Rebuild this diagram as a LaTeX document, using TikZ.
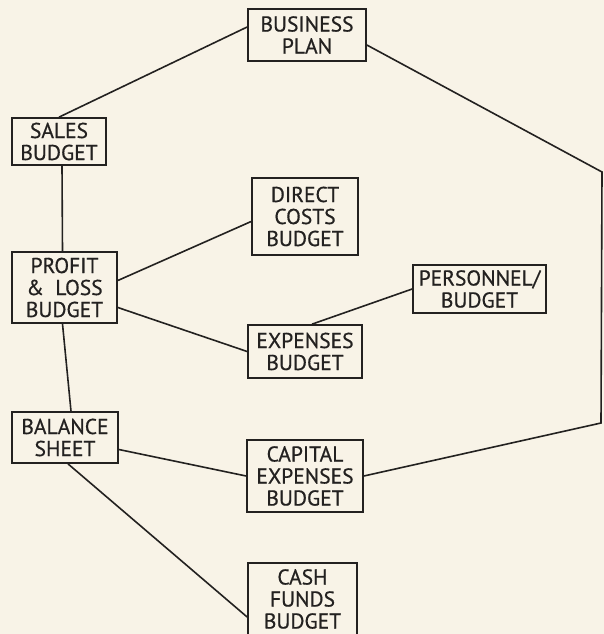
\documentclass[tikz,border=0pt]{standalone}
\usepackage{fontspec}
\setmainfont{PT Sans}
\newfontfamily\lab[FakeBold=0.6]{PT Sans}
\usetikzlibrary{calc}
\definecolor{paper}{HTML}{F8F3E7}
\definecolor{ink}{HTML}{232120}
\begin{document}
\begin{tikzpicture}[x=1pt,y=-1pt,
  bx/.style={draw=ink,line width=1.7pt,rectangle,inner sep=0pt,align=center,
    text=ink,font=\lab\fontsize{21.5}{22}\selectfont},
  ln/.style={draw=ink,line width=1.6pt}]
\fill[paper] (0,0) rectangle (604,634);
\useasboundingbox (0,0) rectangle (604,634);
\begin{scope}
\clip (0,0) rectangle (604,634);
\node[bx,minimum width=118pt,minimum height=52pt] (bp) at (307,35) {BUSINESS\\PLAN};
\node[bx,minimum width=94pt,minimum height=47pt] (sales) at (59,141.5) {SALES\\BUDGET};
\node[bx,minimum width=105pt,minimum height=71pt] (pl) at (64.5,287.5) {PROFIT\\\&\ \ LOSS\\BUDGET};
\node[bx,minimum width=106pt,minimum height=77pt] (dc) at (305,216.5) {DIRECT\\COSTS\\BUDGET};
\node[bx,minimum width=133pt,minimum height=48pt] (pers) at (479.5,289) {PERSONNEL/\\BUDGET};
\node[bx,minimum width=114pt,minimum height=53pt] (exp) at (305,351.5) {EXPENSES\\BUDGET};
\node[bx,minimum width=106pt,minimum height=51pt] (bs) at (65,437.5) {BALANCE\\SHEET};
\node[bx,minimum width=116pt,minimum height=72pt] (cap) at (305,476) {CAPITAL\\EXPENSES\\BUDGET};
\node[bx,minimum width=109pt,minimum height=72pt] (cash) at (302.5,599) {CASH\\FUNDS\\BUDGET};
\coordinate (c1) at (602,172);
\coordinate (c2) at (601,423);
\draw[ln] ([yshift=8pt]bp.west) -- (sales.north);
\draw[ln] ([yshift=-10pt]bp.east) -- (c1) -- (c2) -- (cap.east);
\draw[ln] ([xshift=3pt]sales.south) -- ([xshift=-2pt]pl.north);
\draw[ln] ([yshift=7pt]pl.east) -- ([yshift=-5pt]dc.west);
\draw[ln] ([yshift=-20pt]pl.east) -- (exp.west);
\draw[ln] (pers.west) -- ([xshift=7pt]exp.north);
\draw[ln] ([xshift=-2pt]pl.south) -- ([xshift=6pt]bs.north);
\draw[ln] ([yshift=-12pt]bs.east) -- (cap.west);
\draw[ln] ([xshift=3pt]bs.south) -- ([yshift=-18pt]cash.west);
\end{scope}
\end{tikzpicture}
\end{document}
